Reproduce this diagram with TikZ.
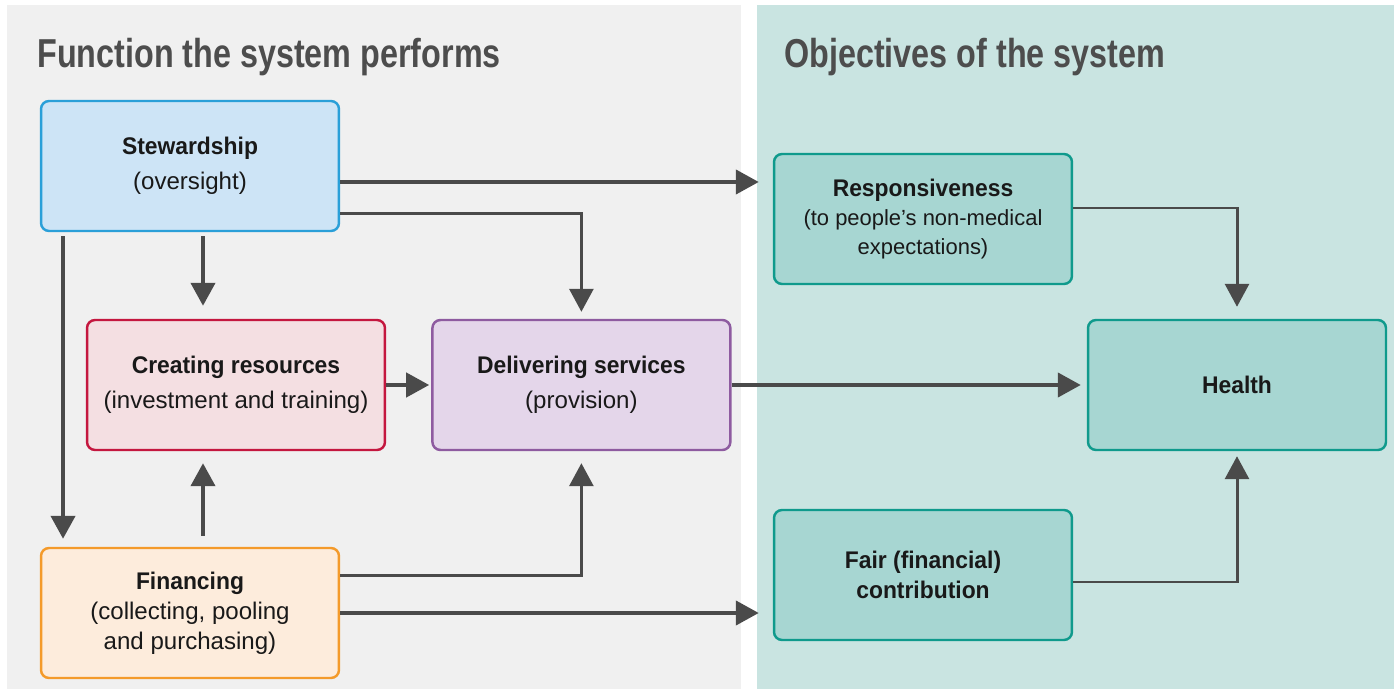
\documentclass[tikz,border=0pt]{standalone}
\usepackage{fontspec}
\setmainfont{Liberation Sans}[BoldFeatures={FakeStretch=0.95}]
\newfontfamily\headfont{Liberation Sans}[FakeStretch=0.8]
\usetikzlibrary{positioning}
\usetikzlibrary{arrows.meta}
\definecolor{panelgray}{HTML}{F0F0F0}
\definecolor{panelteal}{HTML}{C9E4E1}
\definecolor{arrowgray}{HTML}{4A4A4A}
\definecolor{headgray}{HTML}{4D4D4D}
\definecolor{stewfill}{HTML}{CDE4F6}
\definecolor{stewdraw}{HTML}{2A9FD8}
\definecolor{creatfill}{HTML}{F4DFE2}
\definecolor{creatdraw}{HTML}{C4173F}
\definecolor{delivfill}{HTML}{E4D6EA}
\definecolor{delivdraw}{HTML}{8E5BA0}
\definecolor{finfill}{HTML}{FDECDC}
\definecolor{findraw}{HTML}{F49A2A}
\definecolor{objfill}{HTML}{A7D6D2}
\definecolor{objdraw}{HTML}{0F9A8C}
\tikzstyle{headline} = [inner sep=0pt, anchor=base west, text=headgray, font=\headfont\bfseries\fontsize{23pt}{26pt}\selectfont]
\tikzstyle{funcbox} = [rectangle, rounded corners=0.16cm, minimum width=5.96cm, minimum height=2.6cm, align=center, line width=1.4pt, text=black!90, font=\fontsize{13.7pt}{19.9pt}\selectfont]
\tikzstyle{objbox} = [funcbox, fill=objfill, draw=objdraw]
\tikzstyle{thickarrow} = [line width=2.4pt, draw=arrowgray, -{Triangle[width=0.48cm,length=0.46cm]}]
\tikzstyle{thinarrow} = [line width=1.7pt, draw=arrowgray, -{Triangle[width=0.48cm,length=0.46cm]}]

\begin{document}
\begin{tikzpicture}[x=0.02cm, y=-0.02cm]
        \useasboundingbox (0,0) rectangle (1394,689);
        % panels
        \fill[panelgray] (7,5) rectangle (741,689);
        \fill[panelteal] (757,5) rectangle (1394,689);
        \node (functitle) [headline] at (37,68) {Function the system performs};
        \node (objtitle) [headline] at (784,68) {Objectives of the system};
        % functions
        \node (stew) [funcbox, fill=stewfill, draw=stewdraw] at (190,166) {\textbf{Stewardship}\\(oversight)};
        \node (creat) [funcbox, fill=creatfill, draw=creatdraw] at (236,385) {\textbf{Creating resources}\\(investment and training)};
        \node (deliv) [funcbox, fill=delivfill, draw=delivdraw, right=0.9cm of creat] {\textbf{Delivering services}\\(provision)};
        \node (fin) [funcbox, fill=finfill, draw=findraw, font=\fontsize{13.7pt}{17.1pt}\selectfont] at (190,613) {\textbf{Financing}\\(collecting, pooling\\and purchasing)};
        % objectives
        \node (resp) [objbox, font=\fontsize{12.5pt}{16.5pt}\selectfont] at (923,219) {{\fontsize{13.7pt}{16.5pt}\selectfont\textbf{Responsiveness}}\\(to people’s non-medical\\expectations)};
        \node (health) [objbox] at (1237,385) {\textbf{Health}};
        \node (fair) [objbox, font=\bfseries\fontsize{13.7pt}{17.1pt}\selectfont] at (923,575) {Fair (financial)\\contribution};
        % connectors
        \draw [thickarrow, shorten >=0.28cm] ([yshift=-0.32cm]stew.east) -- ([yshift=-0.32cm]stew.east -| resp.west);
        \draw [thinarrow, shorten >=0.14cm] ([yshift=-0.96cm]stew.east) -| (deliv.north);
        \draw [thickarrow, shorten <=0.08cm, shorten >=0.26cm] ([xshift=0.26cm]stew.south) -- ([xshift=0.26cm]stew.south |- creat.north);
        \draw [thickarrow, shorten <=0.08cm, shorten >=0.16cm] ([xshift=-2.54cm]stew.south) -- ([xshift=-2.54cm]stew.south |- fin.north);
        \draw [thickarrow, shorten >=0.04cm] (creat.east) -- (deliv.west);
        \draw [thickarrow, shorten <=0.22cm, shorten >=0.24cm] ([xshift=0.26cm]fin.north) -- ([xshift=0.26cm]fin.north |- creat.south);
        \draw [thinarrow, shorten >=0.24cm] ([yshift=0.76cm]fin.east) -| (deliv.south);
        \draw [thickarrow, shorten >=0.28cm] (fin.east) -- (fin.east -| fair.west);
        \draw [thickarrow, shorten >=0.12cm] (deliv.east) -- (health.west);
        \draw [thinarrow, shorten >=0.24cm] ([yshift=0.22cm]resp.east) -| (health.north);
        \draw [thinarrow, shorten >=0.1cm] ([yshift=-0.14cm]fair.east) -| (health.south);
    \end{tikzpicture}
\end{document}
